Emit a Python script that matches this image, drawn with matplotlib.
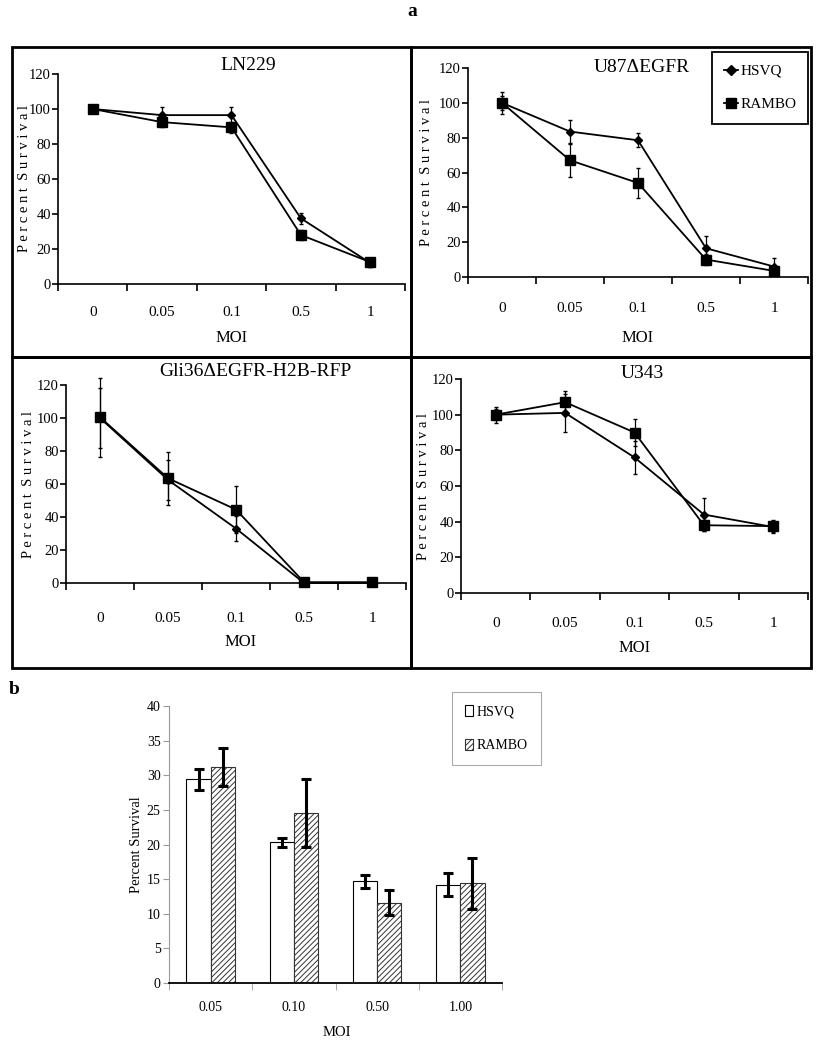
import matplotlib
matplotlib.use("Agg")
import matplotlib.pyplot as plt
from matplotlib.patches import Rectangle
from matplotlib.lines import Line2D
import numpy as np

plt.rcParams['font.family'] = ['Liberation Serif', 'DejaVu Serif']
plt.rcParams['hatch.linewidth'] = 0.7

W, H = 824, 1050

# ---- panel a data (percent survival) ----
moi = ['0', '0.05', '0.1', '0.5', '1']

ln229_hsvq = [100, 96.5, 96.5, 37.5, 12]
ln229_hsvq_err = [2, 4.5, 4.5, 3, 2.5]
ln229_rambo = [100, 92.5, 89.5, 28, 12.5]
ln229_rambo_err = [2.5, 3, 3, 3, 2.5]

u87_hsvq = [100, 83.5, 78.5, 16.5, 6]
u87_hsvq_err = [6.5, 6.5, 4, 7, 5]
u87_rambo = [100, 67, 54, 10, 3.5]
u87_rambo_err = [4, 9.5, 8.5, 3, 2]

gli_hsvq = [100, 62.5, 33, 0, 0]
gli_hsvq_err = [18, 12, 7.5, 0, 0]
gli_rambo = [100.5, 63.5, 44.5, 0.5, 0.5]
gli_rambo_err = [24, 16, 14, 0, 0]

u343_hsvq = [100, 101, 76, 44, 37]
u343_hsvq_err = [3, 10.5, 9.5, 9.5, 3.5]
u343_rambo = [100, 107, 90, 38, 37.5]
u343_rambo_err = [4.5, 6, 7.5, 3, 3.5]

# ---- panel b data ----
moi_b = ['0.05', '0.10', '0.50', '1.00']
hsvq_b = [29.4, 20.3, 14.7, 14.2]
hsvq_b_err = [1.5, 0.7, 0.95, 1.7]
rambo_b = [31.2, 24.6, 11.6, 14.4]
rambo_b_err = [2.8, 4.9, 1.85, 3.65]

fig = plt.figure(figsize=(W / 100, H / 100), dpi=100)


def rect(x0, x1, ytop, ybot):
    # pixel box -> figure fraction rect
    return [x0 / W, 1 - ybot / H, (x1 - x0) / W, (ybot - ytop) / H]


def survival_panel(box, title, title_xy, moi_xy, ylab_x, pad,
                   hsvq, hsvq_err, rambo, rambo_err, legend=False):
    ax = fig.add_axes(rect(*box))
    x = np.arange(len(moi))
    ax.errorbar(x, hsvq, yerr=hsvq_err, color='k', marker='D', ms=4.5,
                lw=1.3, elinewidth=0.9, capsize=1.5, clip_on=False)
    ax.errorbar(x, rambo, yerr=rambo_err, color='k', marker='s', ms=7,
                lw=1.3, elinewidth=0.9, capsize=1.5, clip_on=False)
    ax.set_xlim(-0.5, 4.5)
    ax.set_ylim(0, 120)
    ax.set_yticks(range(0, 121, 20))
    ax.set_xticks(x)
    ax.set_xticklabels(moi)
    ax.set_xticks(np.arange(-0.5, 5, 1), minor=True)
    ax.tick_params(axis='x', which='major', length=0, pad=pad, labelsize=11)
    ax.tick_params(axis='x', which='minor', length=5, width=1.2)
    ax.tick_params(axis='y', length=4, width=1.2, labelsize=10.5, pad=1)
    for s in ('top', 'right'):
        ax.spines[s].set_visible(False)
    for s in ('left', 'bottom'):
        ax.spines[s].set_linewidth(1.2)
    ax.set_xlabel('MOI', fontsize=12)
    ax.xaxis.set_label_coords(moi_xy[0] / W, 1 - moi_xy[1] / H,
                              transform=fig.transFigure)
    ax.xaxis.label.set_va('center')
    ax.set_ylabel('P e r c e n t  S u r v i v a l', fontsize=10.5)
    ax.yaxis.set_label_coords(ylab_x / W, 1 - (box[2] + box[3]) / 2 / H,
                              transform=fig.transFigure)
    ax.yaxis.label.set_va('center')
    fig.text(title_xy[0] / W, 1 - title_xy[1] / H, title, fontsize=14,
             ha='center', va='center')
    if legend:
        handles = [Line2D([], [], color='k', marker='D', ms=5, lw=1.3),
                   Line2D([], [], color='k', marker='s', ms=7, lw=1.3)]
        leg = ax.legend(handles, ['HSVQ', 'RAMBO'], loc='upper left',
                        bbox_to_anchor=(712 / W, 1 - 52 / H),
                        bbox_transform=fig.transFigure, fontsize=11,
                        handlelength=0.9, handletextpad=0.15,
                        labelspacing=1.3, borderpad=0.8, borderaxespad=0,
                        fancybox=False, framealpha=1)
        leg.get_frame().set_edgecolor('k')
        leg.get_frame().set_linewidth(1.3)
    return ax


survival_panel((58, 405, 74, 284), 'LN229', (248, 66), (232, 338), 25, 16,
               ln229_hsvq, ln229_hsvq_err, ln229_rambo, ln229_rambo_err)
survival_panel((468, 808, 68, 277), 'U87\u0394EGFR', (642, 67), (638, 338),
               426, 18, u87_hsvq, u87_hsvq_err, u87_rambo, u87_rambo_err,
               legend=True)
survival_panel((66, 406, 385, 583), 'Gli36\u0394EGFR-H2B-RFP', (255, 372),
               (241, 642), 29, 21, gli_hsvq, gli_hsvq_err, gli_rambo,
               gli_rambo_err)
survival_panel((461, 808, 379, 593), 'U343', (642, 373), (635, 648), 423, 17,
               u343_hsvq, u343_hsvq_err, u343_rambo, u343_rambo_err)

# panel frames
for x0, y0, x1, y1 in [(12, 47, 411, 357), (411, 47, 811, 357),
                       (12, 357, 411, 668), (411, 357, 811, 668)]:
    fig.add_artist(Rectangle((x0 / W, 1 - y1 / H), (x1 - x0) / W,
                             (y1 - y0) / H, transform=fig.transFigure,
                             fill=False, lw=2.0, ec='k'))

fig.text(412 / W, 1 - 12 / H, 'a', fontsize=14, fontweight='bold',
         ha='center', va='center')
fig.text(14 / W, 1 - 690 / H, 'b', fontsize=14, fontweight='bold',
         ha='center', va='center')

# ---- panel b: bar chart ----
axb = fig.add_axes(rect(169, 502, 706, 983))
xb = np.arange(len(moi_b))
bw = 0.29
axb.bar(xb - bw / 2, hsvq_b, bw, color='white', edgecolor='k', lw=0.8,
        label='HSVQ')
axb.bar(xb + bw / 2, rambo_b, bw, color='white', edgecolor='#333333',
        hatch='//////', lw=0.8, label='RAMBO')
axb.errorbar(xb - bw / 2, hsvq_b, yerr=hsvq_b_err, fmt='none', ecolor='k',
             elinewidth=2.2, capsize=3.5, capthick=2.2)
axb.errorbar(xb + bw / 2, rambo_b, yerr=rambo_b_err, fmt='none', ecolor='k',
             elinewidth=2.2, capsize=3.5, capthick=2.2)
axb.set_xlim(-0.5, 3.5)
axb.set_ylim(0, 40)
axb.set_yticks(range(0, 41, 5))
axb.set_xticks(xb)
axb.set_xticklabels(moi_b)
axb.set_xticks(np.arange(-0.5, 4, 1), minor=True)
axb.tick_params(axis='x', which='major', length=0, pad=13, labelsize=10)
axb.tick_params(axis='x', which='minor', length=5, color='#999999')
axb.tick_params(axis='y', length=4, color='#999999', labelsize=10, pad=2)
for s in ('top', 'right'):
    axb.spines[s].set_visible(False)
axb.spines['left'].set_color('#999999')
axb.spines['bottom'].set_linewidth(1.3)
axb.set_xlabel('MOI', fontsize=10.5)
axb.xaxis.set_label_coords(337 / W, 1 - 1033 / H, transform=fig.transFigure)
axb.xaxis.label.set_va('center')
axb.set_ylabel('Percent Survival', fontsize=10.5)
axb.yaxis.set_label_coords(137 / W, 1 - 845 / H, transform=fig.transFigure)
axb.yaxis.label.set_va('center')
legb = axb.legend(loc='upper left', bbox_to_anchor=(452 / W, 1 - 692 / H),
                  bbox_transform=fig.transFigure, fontsize=10,
                  handlelength=0.6, handleheight=0.9, handletextpad=0.3,
                  labelspacing=1.5, borderpad=0.9, borderaxespad=0,
                  fancybox=False, framealpha=1)
legb.get_frame().set_edgecolor('#aaaaaa')
legb.get_frame().set_linewidth(0.8)

fig.savefig('out.png', dpi=100)
